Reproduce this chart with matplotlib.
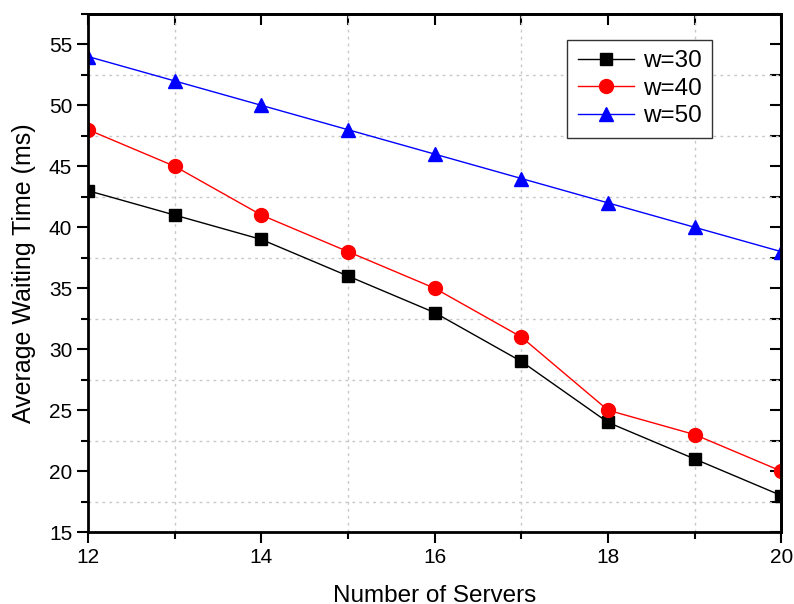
import matplotlib
matplotlib.use("Agg")
import matplotlib.pyplot as plt
from matplotlib.ticker import MultipleLocator

servers = [12, 13, 14, 15, 16, 17, 18, 19, 20]
w30 = [43, 41, 39, 36, 33, 29, 24, 21, 18]
w40 = [48, 45, 41, 38, 35, 31, 25, 23, 20]
w50 = [54, 52, 50, 48, 46, 44, 42, 40, 38]

plt.rcParams["font.family"] = ["Liberation Sans", "DejaVu Sans"]

fig = plt.figure(figsize=(7.94, 6.04), dpi=100)
ax = fig.add_axes([0.111, 0.119, 0.873, 0.858])

ax.plot(servers, w30, color="black", marker="s", markersize=9, linewidth=1, label="w=30")
ax.plot(servers, w40, color="red", marker="o", markersize=10, linewidth=1, label="w=40")
ax.plot(servers, w50, color="blue", marker="^", markersize=10, linewidth=1, label="w=50")

ax.set_xlim(12, 20)
ax.set_ylim(15, 57.5)
ax.xaxis.set_major_locator(MultipleLocator(2))
ax.xaxis.set_minor_locator(MultipleLocator(1))
ax.yaxis.set_major_locator(MultipleLocator(5))
ax.yaxis.set_minor_locator(MultipleLocator(2.5))

ax.grid(which="minor", color="#c8c8c8", linestyle=(0, (2, 3)), linewidth=1)
ax.grid(which="major", visible=False)

for s in ax.spines.values():
    s.set_linewidth(2)

ax.tick_params(which="both", direction="out", top=False, right=False, width=1.5, labelsize=15)
ax.tick_params(which="major", length=8)
ax.tick_params(which="minor", length=5)

ax2 = ax.secondary_xaxis("top")
ax2.xaxis.set_major_locator(MultipleLocator(2))
ax2.xaxis.set_minor_locator(MultipleLocator(1))
ax2.tick_params(which="both", direction="in", length=8, width=1.5, labeltop=False)
ax2.spines["top"].set_linewidth(2)
ax3 = ax.secondary_yaxis("right")
ax3.yaxis.set_major_locator(MultipleLocator(5))
ax3.yaxis.set_minor_locator(MultipleLocator(2.5))
ax3.tick_params(which="both", direction="in", length=8, width=1.5, labelright=False)
ax3.spines["right"].set_linewidth(2)

ax.set_xlabel("Number of Servers", fontsize=17.5, labelpad=13)
ax.set_ylabel("Average Waiting Time (ms)", fontsize=18, labelpad=9)

leg = ax.legend(loc="upper right", bbox_to_anchor=(0.918, 0.974), fontsize=17.5,
                frameon=True, fancybox=False, edgecolor="#333333", framealpha=1,
                handlelength=2.3, borderpad=0.45, labelspacing=0.22, handletextpad=0.35)
leg.get_frame().set_linewidth(1)

fig.savefig("out.png", dpi=100)
